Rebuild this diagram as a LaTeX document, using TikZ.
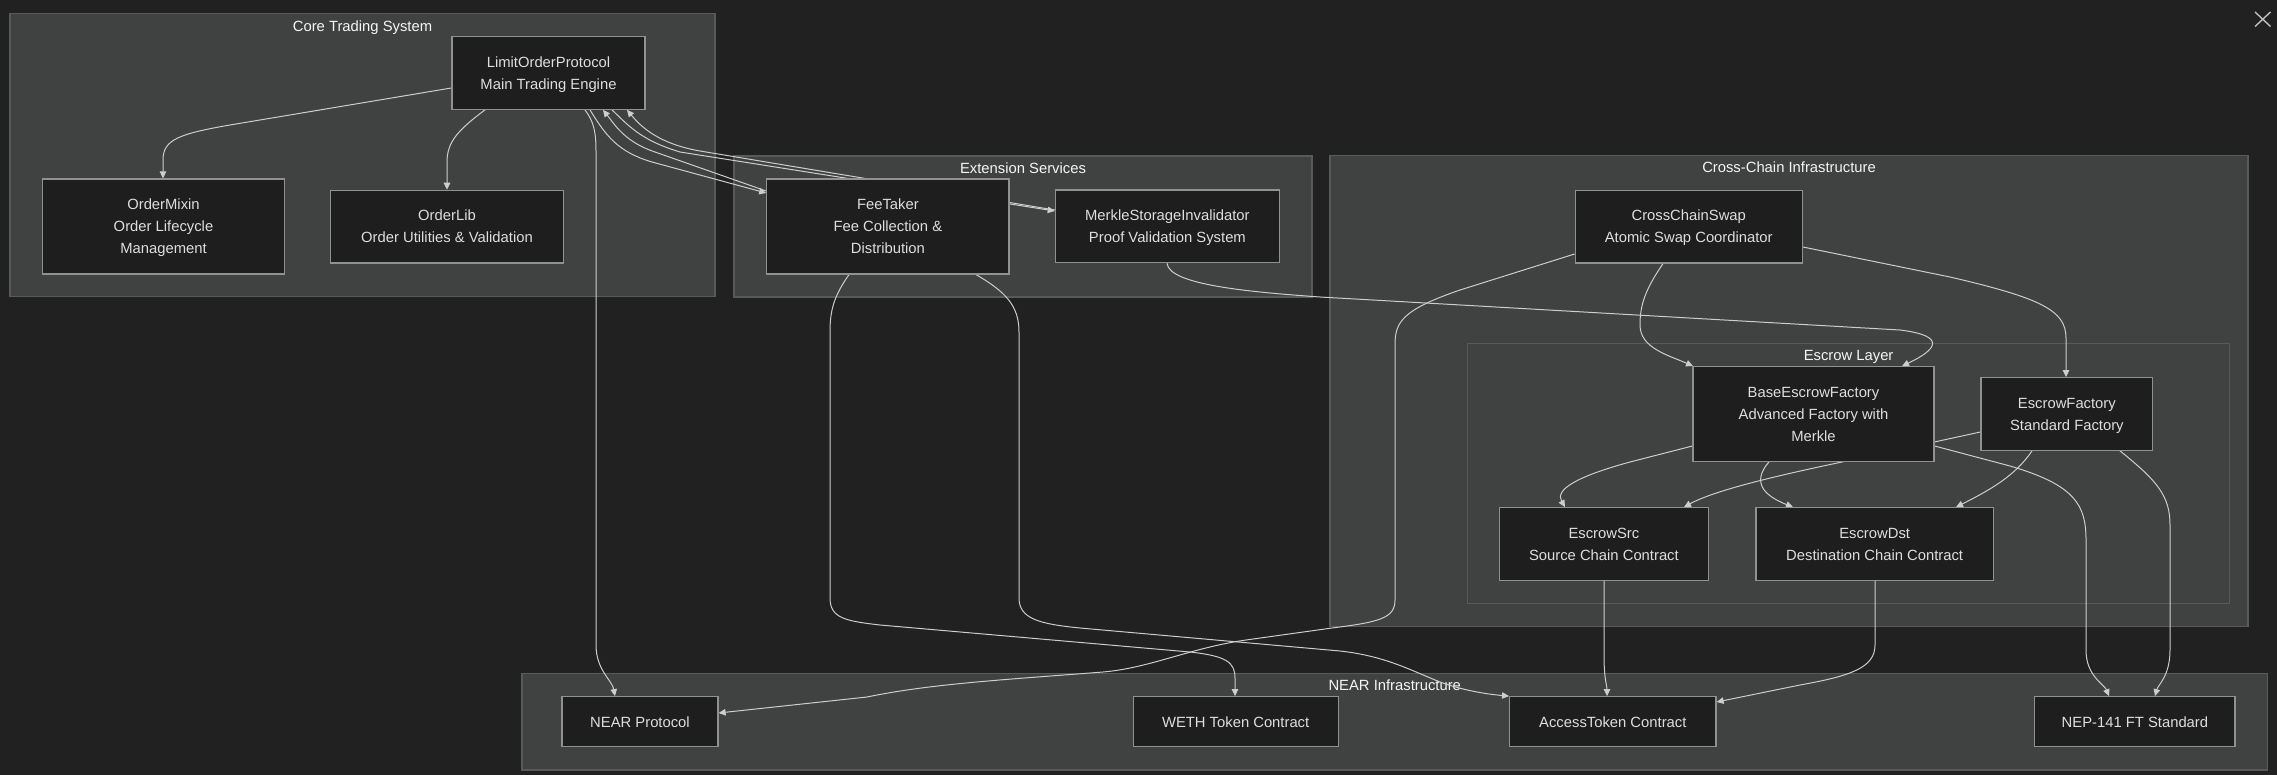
\documentclass[tikz,border=0pt]{standalone}
\usepackage{fontspec}
\setmainfont{Liberation Sans}
\usetikzlibrary{arrows.meta,calc}
\definecolor{bgcol}{RGB}{33,33,33}
\definecolor{clfill}{RGB}{64,65,65}
\definecolor{clborder}{RGB}{88,89,89}
\definecolor{nodefill}{RGB}{30,30,30}
\definecolor{nodeborder}{RGB}{145,145,145}
\definecolor{nodetext}{RGB}{222,222,222}
\definecolor{titletext}{RGB}{245,245,245}
\definecolor{edgecol}{RGB}{205,205,205}
\definecolor{xcol}{RGB}{190,190,190}
\pgfdeclarelayer{clusters}
\pgfdeclarelayer{edges}
\pgfsetlayers{clusters,edges,main}
\newcommand\lnstrut{\rule[-3.4pt]{0pt}{17.4pt}}
\newcommand\nfont{\fontsize{14.8pt}{22pt}\selectfont}
\tikzset{
  box/.style={draw=nodeborder, fill=nodefill, line width=1.2pt, inner sep=0pt, align=center, text=nodetext, font=\nfont},
  cluster/.style={draw=clborder, fill=clfill, line width=1.2pt},
  cltitle/.style={text=titletext, font=\nfont, inner sep=0pt},
  conn/.style={draw=edgecol, line width=1pt, -{Triangle[length=7pt,width=6.5pt]}},
}
\begin{document}
\begin{tikzpicture}[x=1pt,y=-1pt]
\useasboundingbox (0,0) rectangle (2277,775);
\begin{pgfonlayer}{clusters}
  \fill[bgcol] (0,0) rectangle (2277,775);
  \draw[cluster] (10,13.3) rectangle (715,296.7);
  \draw[cluster] (734,156) rectangle (1312,297);
  \draw[cluster] (1330,155.3) rectangle (2248,626.7);
  \draw[cluster] (1467.7,343.3) rectangle (2229.6,603.3);
  \draw[cluster] (522,673.3) rectangle (2267.5,770);
  \node[cltitle] (tcore) at (362.5,26) {\lnstrut Core Trading System};
  \node[cltitle] (text) at (1023,168) {\lnstrut Extension Services};
  \node[cltitle] (tcross) at (1789,167.7) {\lnstrut Cross-Chain Infrastructure};
  \node[cltitle] (tescrow) at (1848.6,355) {\lnstrut Escrow Layer};
  \node[cltitle] (tnear) at (1394.75,685) {\lnstrut NEAR Infrastructure};
\end{pgfonlayer}

% nodes
\node[box, minimum width=193pt, minimum height=72.6pt] (lop) at (548.5,73) {\lnstrut LimitOrderProtocol\\\lnstrut Main Trading Engine};
\node[box, minimum width=242.5pt, minimum height=95pt] (mixin) at (163.5,226.5) {\lnstrut OrderMixin\\\lnstrut Order Lifecycle\\\lnstrut Management};
\node[box, minimum width=232.8pt, minimum height=72.7pt] (lib) at (447,226.7) {\lnstrut OrderLib\\\lnstrut Order Utilities \& Validation};
\node[box, minimum width=242.3pt, minimum height=95pt] (fee) at (887.9,226.5) {\lnstrut FeeTaker\\\lnstrut Fee Collection \&\\\lnstrut Distribution};
\node[box, minimum width=224.2pt, minimum height=72.7pt] (merkle) at (1167.4,226.35) {\lnstrut MerkleStorageInvalidator\\\lnstrut Proof Validation System};
\node[box, minimum width=227.1pt, minimum height=72.7pt] (ccs) at (1688.75,226.65) {\lnstrut CrossChainSwap\\\lnstrut Atomic Swap Coordinator};
\node[box, minimum width=241pt, minimum height=94.6pt] (bef) at (1813.5,414) {\lnstrut BaseEscrowFactory\\\lnstrut Advanced Factory with\\\lnstrut Merkle};
\node[box, minimum width=171.7pt, minimum height=72.6pt] (ef) at (2066.85,414) {\lnstrut EscrowFactory\\\lnstrut Standard Factory};
\node[box, minimum width=208.8pt, minimum height=72.6pt] (esrc) at (1603.9,544) {\lnstrut EscrowSrc\\\lnstrut Source Chain Contract};
\node[box, minimum width=237.5pt, minimum height=72.6pt] (edst) at (1874.65,544) {\lnstrut EscrowDst\\\lnstrut Destination Chain Contract};
\node[box, minimum width=156pt, minimum height=50pt] (nearp) at (640,721.7) {\lnstrut NEAR Protocol};
\node[box, minimum width=204.9pt, minimum height=50pt] (weth) at (1235.65,721.7) {\lnstrut WETH Token Contract};
\node[box, minimum width=206.4pt, minimum height=50pt] (access) at (1612.8,721.7) {\lnstrut AccessToken Contract};
\node[box, minimum width=200.2pt, minimum height=50pt] (nep) at (2134.9,721.7) {\lnstrut NEP-141 FT Standard};

% close icon
\draw[xcol, line width=1.4pt] (2255,12) -- (2270.5,26.5) (2255,26.5) -- (2270.5,12);

\begin{pgfonlayer}{edges}
  % core
  \draw[conn] (lop.west |- 0,88) -- (230,125) .. controls (178,134) and (163,140) .. (163,160) -- (163,0 |- mixin.north);
  \draw[conn] (485,0 |- lop.south) .. controls (458,130) and (447,142) .. (447,162) -- (447,0 |- lib.north);
  \draw[conn] (585,0 |- lop.south) .. controls (594,122) and (596,132) .. (596,152) -- (596,645) .. controls (596,670) and (612,680) .. (615,0 |- nearp.north);
  % LOP <-> FeeTaker
  \draw[conn] (590,0 |- lop.south) .. controls (606,136) and (618,152) .. (652,162) -- (fee.west |- 0,193);
  \draw[conn] (fee.west |- 0,191) -- (655,152) .. controls (625,142) and (615,125) .. (603,0 |- lop.south);
  % LOP <-> Merkle
  \draw[conn] (612,0 |- lop.south) .. controls (628,125) and (640,140) .. (680,152) -- (merkle.west |- 0,211);
  \draw[conn] (merkle.west |- 0,210) -- (700,151) .. controls (660,144) and (642,128) .. (627,0 |- lop.south);
  % FeeTaker out
  \draw[conn] (849,0 |- fee.south) .. controls (834,296) and (830,310) .. (830,332) -- (830,598) .. controls (830,618) and (845,621) .. (880,625) -- (1190,652) .. controls (1226,656) and (1235,662) .. (1235,678) -- (1235,0 |- weth.north);
  \draw[conn] (976,0 |- fee.south) .. controls (1006,292) and (1019,306) .. (1019,332) -- (1019,598) .. controls (1019,619) and (1040,624) .. (1080,628) -- (1340,651) .. controls (1385,656) and (1410,670) .. (1440,682) .. controls (1462,690) and (1485,694) .. (access.north west);
  % Merkle -> BEF
  \draw[conn] (1167,0 |- merkle.south) .. controls (1169,285) and (1250,292) .. (1320,297) -- (1900,330) .. controls (1948,336) and (1936,350) .. (1902,0 |- bef.north);
  % CCS
  \draw[conn] (ccs.west |- 0,254) -- (1460,290) .. controls (1402,310) and (1395,322) .. (1395,345) -- (1395,600) .. controls (1395,618) and (1380,622) .. (1332,628) -- (1246,640) .. controls (1190,648) and (1150,668) .. (1103,672) .. controls (1000,680) and (930,684) .. (867,697) -- (nearp.east |- 0,713);
  \draw[conn] (1663,0 |- ccs.south) .. controls (1645,290) and (1640,305) .. (1640,325) .. controls (1640,348) and (1668,355) .. (1693,0 |- bef.north);
  \draw[conn] (ccs.east |- 0,247) -- (1950,277) .. controls (2040,298) and (2066,310) .. (2066,338) -- (2066,0 |- ef.north);
  % escrow layer
  \draw[conn] (bef.west |- 0,446) -- (1630,462) .. controls (1575,477) and (1555,490) .. (1565,0 |- esrc.north);
  \draw[conn] (1769,0 |- bef.south) .. controls (1755,478) and (1757,493) .. (1793,0 |- edst.north);
  \draw[conn] (ef.west |- 0,432) -- (1842,462) .. controls (1780,475) and (1715,490) .. (1684,0 |- esrc.north);
  \draw[conn] (2032,0 |- ef.south) .. controls (2015,476) and (1990,490) .. (1956,0 |- edst.north);
  \draw[conn] (bef.east |- 0,446) -- (2010,466) .. controls (2075,485) and (2086,505) .. (2086,540) -- (2086,650) .. controls (2086,676) and (2104,684) .. (2109,0 |- nep.north);
  \draw[conn] (2120,0 |- ef.south) .. controls (2156,480) and (2170,495) .. (2170,525) -- (2170,650) .. controls (2170,676) and (2158,685) .. (2155,0 |- nep.north);
  \draw[conn] (1604,0 |- esrc.south) -- (1604,655) .. controls (1604,680) and (1607,685) .. (1607,0 |- access.north);
  \draw[conn] (1875,0 |- edst.south) -- (1875,645) .. controls (1875,668) and (1850,676) .. (1800,685) -- (access.east |- 0,702);
\end{pgfonlayer}
\end{tikzpicture}
\end{document}
